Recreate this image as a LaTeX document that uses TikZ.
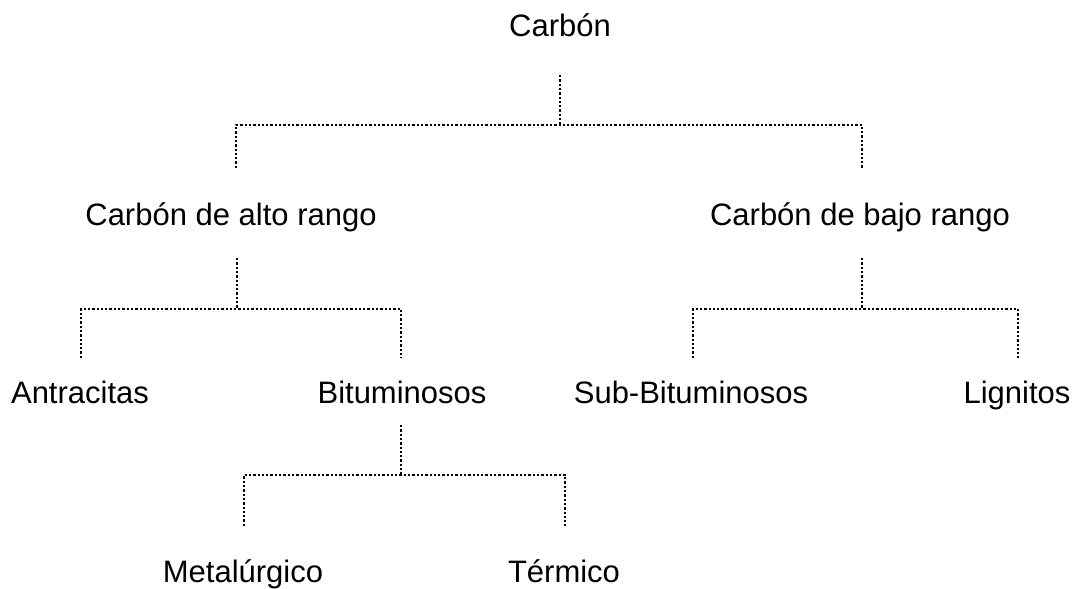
\documentclass[tikz,border=0pt]{standalone}
\usepackage{fontspec}
\setmainfont{Liberation Sans}
\begin{document}
\begin{tikzpicture}[x=1pt,y=-1pt,
  lbl/.style={anchor=base,inner sep=0pt,font=\fontsize{31}{36}\selectfont},
  link/.style={line width=2.3pt,dash pattern=on 2.3pt off 2pt,black}]
\useasboundingbox (0,0) rectangle (1080,589);

% labels
\node[lbl] (carbon) at (560,36) {Carbón};
\node[lbl] (alto)   at (231,225) {Carbón de alto rango};
\node[lbl] (bajo)   at (860,225) {Carbón de bajo rango};
\node[lbl] (antra)  at (80,403)  {Antracitas};
\node[lbl] (bitu)   at (402,403) {Bituminosos};
\node[lbl] (subbit) at (691,403) {Sub-Bituminosos};
\node[lbl] (lign)   at (1017,403) {Lignitos};
\node[lbl] (metal)  at (243,582) {Metalúrgico};
\node[lbl] (term)   at (564,582) {Térmico};

% branch points
\coordinate (c0) at (560,75);   \coordinate (c1) at (560,125);
\coordinate (cl) at (236,125);  \coordinate (cr) at (862,125);
\coordinate (cle) at (236,168); \coordinate (cre) at (862,168);

\coordinate (a0) at (237,258);  \coordinate (a1) at (237,309);
\coordinate (al) at (81,309);   \coordinate (ar) at (401,309);
\coordinate (ale) at (81,358);  \coordinate (are) at (401,358);

\coordinate (b0) at (862,258);  \coordinate (b1) at (862,309);
\coordinate (bl) at (693,309);  \coordinate (br) at (1018,309);
\coordinate (ble) at (693,358); \coordinate (bre) at (1018,358);

\coordinate (m0) at (401,425);  \coordinate (m1) at (401,475);
\coordinate (ml) at (244,475);  \coordinate (mr) at (565,475);
\coordinate (mle) at (244,526); \coordinate (mre) at (565,526);

% dotted connectors
\draw[link] (c0) -- (c1);
\draw[link] (cle) -- (cl) -- (cr) -- (cre);
\draw[link] (a0) -- (a1);
\draw[link] (ale) -- (al) -- (ar) -- (are);
\draw[link] (b0) -- (b1);
\draw[link] (ble) -- (bl) -- (br) -- (bre);
\draw[link] (m0) -- (m1);
\draw[link] (mle) -- (ml) -- (mr) -- (mre);
\end{tikzpicture}
\end{document}
